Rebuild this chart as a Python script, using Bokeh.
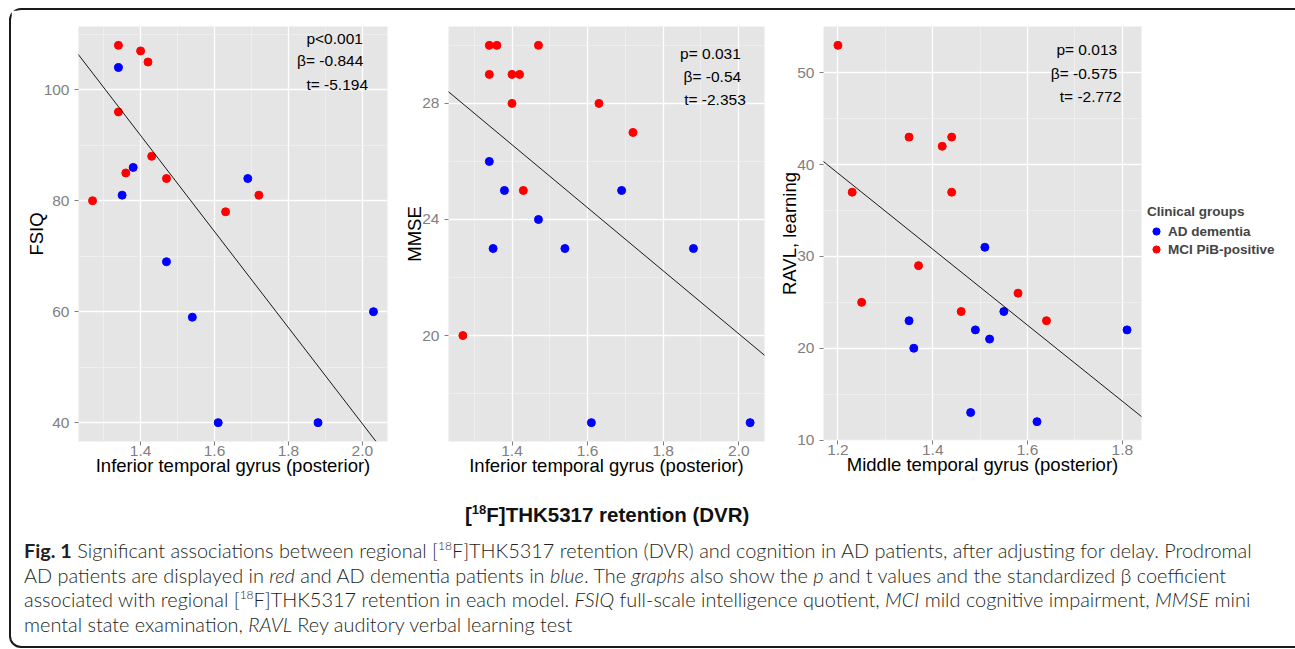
from bokeh.plotting import figure
from bokeh.models import (Range1d, FixedTicker, Slope, Legend, LegendItem, Div,
                          NumeralTickFormatter)
from bokeh.layouts import row, column
from bokeh.embed import file_html
from bokeh.resources import INLINE
from bokeh.core.properties import value

# ---------------- data ----------------
# Panel 1: FSIQ vs inferior temporal gyrus (posterior)
fsiq_ad_x = [1.34, 1.38, 1.35, 1.47, 1.54, 1.69, 1.61, 1.88, 2.03]
fsiq_ad_y = [104, 86, 81, 69, 59, 84, 40, 40, 60]
fsiq_mci_x = [1.34, 1.40, 1.42, 1.34, 1.43, 1.36, 1.47, 1.27, 1.63, 1.72]
fsiq_mci_y = [108, 107, 105, 96, 88, 85, 84, 80, 78, 81]
fsiq_fit = [-86.6, 213.0]           # slope, intercept
fsiq_stats = ["p<0.001", "β= -0.844", "t= -5.194"]
fsiq_stats_x = [1.925, 1.913, 1.932]
fsiq_stats_y = [109.3, 105.2, 101.0]

# Panel 2: MMSE vs inferior temporal gyrus (posterior)
mmse_ad_x = [1.34, 1.38, 1.47, 1.35, 1.54, 1.69, 1.88, 1.61, 2.03]
mmse_ad_y = [26, 25, 24, 23, 23, 25, 23, 17, 17]
mmse_mci_x = [1.34, 1.36, 1.47, 1.34, 1.40, 1.42, 1.40, 1.63, 1.72, 1.43, 1.27]
mmse_mci_y = [30, 30, 30, 29, 29, 29, 28, 28, 27, 25, 20]
mmse_fit = [-10.86, 41.78]
mmse_stats = ["p= 0.031", "β= -0.54", "t= -2.353"]
mmse_stats_x = [1.925, 1.930, 1.937]
mmse_stats_y = [29.72, 28.93, 28.15]

# Panel 3: RAVL learning vs middle temporal gyrus (posterior)
ravl_ad_x = [1.51, 1.55, 1.35, 1.49, 1.52, 1.36, 1.48, 1.62, 1.81]
ravl_ad_y = [31, 24, 23, 22, 21, 20, 13, 12, 22]
ravl_mci_x = [1.20, 1.23, 1.25, 1.35, 1.44, 1.42, 1.44, 1.37, 1.46, 1.58, 1.64]
ravl_mci_y = [53, 37, 25, 43, 43, 42, 37, 29, 24, 26, 23]
ravl_fit = [-41.4, 88.75]
ravl_stats = ["p= 0.013", "β= -0.575", "t= -2.772"]
ravl_stats_x = [1.725, 1.719, 1.733]
ravl_stats_y = [52.5, 49.9, 47.4]

# ticks
x_ticks_itg = [1.4, 1.6, 1.8, 2.0]
x_minor_itg = [1.3, 1.5, 1.7, 1.9]
x_ticks_mtg = [1.2, 1.4, 1.6, 1.8]
x_minor_mtg = [1.3, 1.5, 1.7]
fsiq_ticks = [40, 60, 80, 100]
fsiq_minor = [50, 70, 90, 110]
mmse_ticks = [20, 24, 28]
mmse_minor = [18, 22, 26, 30]
ravl_ticks = [10, 20, 30, 40, 50]
ravl_minor = [15, 25, 35, 45]

groups = ["AD dementia", "MCI PiB-positive"]
group_colors = ["#0000FF", "#FF0000"]

FONT = "Liberation Sans"


def expand(vals):
    lo, hi = min(vals), max(vals)
    pad = (hi - lo) * 0.05
    return Range1d(lo - pad, hi + pad)


def panel(ad_x, ad_y, mci_x, mci_y, xt, xm, yt, ym, xlabel, ylabel, fit,
          stats, sx, sy, fw, fh, mbl, mbt, mbr, mbb):
    p = figure(frame_width=fw, frame_height=fh, title=None,
               x_range=expand(ad_x + mci_x), y_range=expand(ad_y + mci_y),
               output_backend="svg", toolbar_location=None,
               min_border_left=mbl, min_border_top=mbt, min_border_right=mbr,
               min_border_bottom=mbb,
               background_fill_color="#E5E5E5", border_fill_color="white",
               outline_line_color=None)
    p.xaxis.ticker = FixedTicker(ticks=xt, minor_ticks=xm)
    p.yaxis.ticker = FixedTicker(ticks=yt, minor_ticks=ym)
    p.xaxis.formatter = NumeralTickFormatter(format="0.0")
    for g in (p.xgrid, p.ygrid):
        g.grid_line_color = "white"
        g.grid_line_width = 1.3
        g.minor_grid_line_color = "#F2F2F2"
        g.minor_grid_line_width = 0.7
    for ax in (p.xaxis, p.yaxis):
        ax.axis_line_color = None
        ax.major_tick_line_color = "#7F7F7F"
        ax.major_tick_out = 4
        ax.major_tick_in = 0
        ax.minor_tick_out = 0
        ax.minor_tick_in = 0
        ax.major_label_text_color = "#7F7F7F"
        ax.major_label_text_font = FONT
        ax.major_label_text_font_size = "15.5px"
        ax.axis_label_text_font = FONT
        ax.axis_label_text_font_size = "18.5px"
        ax.axis_label_text_font_style = "normal"
        ax.axis_label_text_color = "black"
    p.xaxis.major_label_standoff = 0
    p.xaxis.axis_label_standoff = -4
    p.yaxis.major_label_standoff = 5
    p.yaxis.axis_label_standoff = -6
    p.xaxis.axis_label = xlabel
    p.yaxis.axis_label = ylabel
    p.add_layout(Slope(gradient=fit[0], y_intercept=fit[1],
                       line_color="black", line_width=0.9))
    r_ad = p.scatter(ad_x, ad_y, size=8, color=group_colors[0])
    r_mci = p.scatter(mci_x, mci_y, size=8, color=group_colors[1])
    p.text(x=sx, y=sy, text=stats, text_font=value(FONT),
           text_font_size="15.5px", text_align="center",
           text_baseline="middle", text_color="black")
    return p, r_ad, r_mci


p1, _, _ = panel(fsiq_ad_x, fsiq_ad_y, fsiq_mci_x, fsiq_mci_y,
                 x_ticks_itg, x_minor_itg, fsiq_ticks, fsiq_minor,
                 "Inferior temporal gyrus (posterior)", "FSIQ", fsiq_fit,
                 fsiq_stats, fsiq_stats_x, fsiq_stats_y,
                 309, 415, 67, 16, 6, 57)
p2, _, _ = panel(mmse_ad_x, mmse_ad_y, mmse_mci_x, mmse_mci_y,
                 x_ticks_itg, x_minor_itg, mmse_ticks, mmse_minor,
                 "Inferior temporal gyrus (posterior)", "MMSE", mmse_fit,
                 mmse_stats, mmse_stats_x, mmse_stats_y,
                 316, 415, 55, 16, 6, 57)
p3, r_ad, r_mci = panel(ravl_ad_x, ravl_ad_y, ravl_mci_x, ravl_mci_y,
                        x_ticks_mtg, x_minor_mtg, ravl_ticks, ravl_minor,
                        "Middle temporal gyrus (posterior)", "RAVL, learning",
                        ravl_fit, ravl_stats, ravl_stats_x, ravl_stats_y,
                        318, 414, 53, 16, 149, 58)

# legend key background (ggplot-style grey key box), no data of its own
r_key = p3.quad(left=[], right=[], top=[], bottom=[],
                fill_color="#EBEBEB", line_color="white", line_width=1)

legend = Legend(items=[LegendItem(label=groups[0], renderers=[r_key, r_ad]),
                       LegendItem(label=groups[1], renderers=[r_key, r_mci])],
                title="Clinical groups", location=(6, 182))
legend.title_text_font = FONT
legend.title_text_font_style = "bold"
legend.title_text_font_size = "13.5px"
legend.title_standoff = 3
legend.label_text_font = FONT
legend.label_text_font_style = "bold"
legend.label_text_font_size = "13.5px"
legend.glyph_width = 18
legend.glyph_height = 18
legend.label_height = 18
legend.label_standoff = 3
legend.spacing = 0
legend.padding = 6
legend.margin = 0
legend.border_line_color = None
legend.background_fill_alpha = 0
p3.add_layout(legend, "right")

title_div = Div(
    text='<div style="font-family:\'Liberation Sans\';font-weight:bold;'
         'font-size:20.5px;line-height:24px;color:#111;padding-left:454px;'
         'padding-top:5px;white-space:nowrap;">[<sup style="font-size:13px;'
         'line-height:0;">18</sup>F]THK5317 retention (DVR)</div>',
    width=1279, height=34, margin=0)

caption_lines = [
    '<b style="font-weight:700">Fig. 1</b> Significant associations between regional [<sup>18</sup>F]THK5317 retention (DVR) and cognition in AD patients, after adjusting for delay. Prodromal',
    'AD patients are displayed in <i>red</i> and AD dementia patients in <i>blue</i>. The <i>graphs</i> also show the <i>p</i> and t values and the standardized β coefficient',
    'associated with regional [<sup>18</sup>F]THK5317 retention in each model. <i>FSIQ</i> full-scale intelligence quotient, <i>MCI</i> mild cognitive impairment, <i>MMSE</i> mini',
    'mental state examination, <i>RAVL</i> Rey auditory verbal learning test',
]
caption_html = '<br>'.join(caption_lines).replace(
    '<sup>', '<sup style="font-size:12px;line-height:0;">')
caption_div = Div(
    text='<div style="font-family:Lato;font-weight:300;font-size:19.9px;'
         'line-height:24.5px;color:#231F20;padding-left:13px;padding-top:6px;'
         'white-space:nowrap;">' + caption_html + '</div>',
    width=1279, height=114, margin=0)

layout = column(row(p1, p2, p3, spacing=0), title_div, caption_div, spacing=0,
                styles={"border": "2px solid #1a1a1a", "border-radius": "12px",
                        "margin-left": "9px", "margin-top": "8px"})

open("out.html", "w").write(file_html(layout, INLINE))
